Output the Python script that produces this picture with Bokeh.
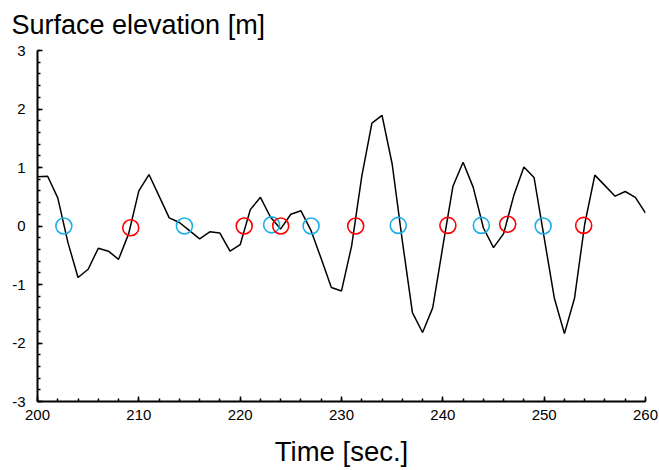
from bokeh.plotting import figure
from bokeh.models import SingleIntervalTicker, Range1d, PrintfTickFormatter
from bokeh.embed import file_html
from bokeh.resources import INLINE

# ---- data ----
time_s = list(range(200, 261))
elevation = [
    0.84, 0.85, 0.48, -0.28, -0.88, -0.74, -0.38, -0.43, -0.57, -0.13,
    0.60, 0.88, 0.51, 0.14, 0.06, -0.08, -0.22, -0.10, -0.12, -0.43,
    -0.32, 0.28, 0.49, 0.15, -0.05, 0.20, 0.26, -0.08, -0.56, -1.05,
    -1.11, -0.34, 0.85, 1.76, 1.89, 1.06, -0.25, -1.48, -1.82, -1.40,
    -0.35, 0.68, 1.09, 0.66, -0.03, -0.37, -0.13, 0.52, 1.01, 0.83,
    -0.20, -1.23, -1.84, -1.23, 0.03, 0.87, 0.69, 0.51, 0.59, 0.49,
    0.22,
]
down_cross_t = [202.6, 214.5, 223.1, 227.0, 235.6, 243.8, 249.9]
down_cross_y = [0.0, 0.0, 0.02, 0.0, 0.01, 0.01, 0.0]
up_cross_t = [209.2, 220.4, 224.0, 231.4, 240.5, 246.4, 253.9]
up_cross_y = [-0.03, 0.0, 0.0, 0.0, 0.01, 0.03, 0.01]
title_text = "Surface elevation [m]"
x_label = "Time [sec.]"

FONT = "Liberation Sans"

p = figure(
    width=659, height=470,
    x_range=Range1d(200, 260), y_range=Range1d(-3, 3),
    output_backend="svg", toolbar_location=None,
    min_border_left=37, min_border_right=14,
    min_border_top=49, min_border_bottom=69,
    title=title_text,
)
p.outline_line_color = None
p.xgrid.visible = False
p.ygrid.visible = False
p.background_fill_color = "white"
p.border_fill_color = "white"

p.title.text_font = FONT
p.title.text_font_size = "27px"
p.title.text_font_style = "normal"
p.title.text_color = "black"
p.title.align = "left"
p.title.offset = -26
p.title.standoff = 18
p.title.vertical_align = "top"

p.xaxis.ticker = SingleIntervalTicker(interval=10, num_minor_ticks=5)
p.yaxis.ticker = SingleIntervalTicker(interval=1, num_minor_ticks=5)
p.yaxis.formatter = PrintfTickFormatter(format="%d")
p.xaxis.axis_label = x_label
p.xaxis.axis_label_text_font = FONT
p.xaxis.axis_label_text_font_size = "27.5px"
p.xaxis.axis_label_text_font_style = "normal"
p.xaxis.axis_label_text_color = "black"
p.xaxis.axis_label_standoff = 13

for ax in (p.xaxis, p.yaxis):
    ax.axis_line_color = "black"
    ax.axis_line_width = 2
    ax.major_tick_in = 5
    ax.major_tick_out = 0
    ax.minor_tick_in = 3
    ax.minor_tick_out = 0
    ax.major_tick_line_color = "black"
    ax.minor_tick_line_color = "black"
    ax.major_tick_line_width = 1.5
    ax.minor_tick_line_width = 1.5
    ax.major_label_text_font = FONT
    ax.major_label_text_font_size = "15px"
    ax.major_label_text_color = "black"
p.xaxis.major_label_standoff = 8
p.yaxis.major_label_standoff = 12

p.line(time_s, elevation, line_color="black", line_width=1.5)
p.scatter(down_cross_t, down_cross_y, marker="circle", size=16,
          fill_color=None, line_color="#1BAEEA", line_width=1.6)
p.scatter(up_cross_t, up_cross_y, marker="circle", size=16,
          fill_color=None, line_color="#FF0000", line_width=1.6)

open("out.html", "w").write(file_html(p, INLINE))
